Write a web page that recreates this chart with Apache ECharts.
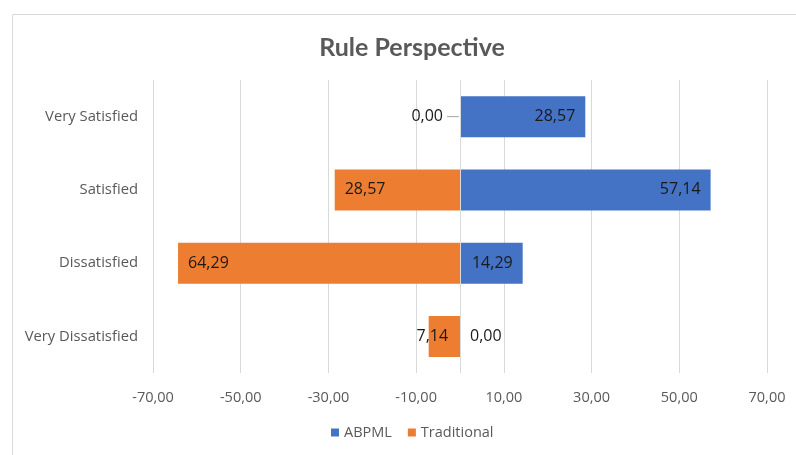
<!DOCTYPE html>
<html>
<head>
<meta charset="utf-8">
<script src="https://cdn.jsdelivr.net/npm/echarts@6/dist/echarts.min.js"></script>
<style>
  html, body { margin: 0; padding: 0; background: #fff; }
  #chart { width: 796px; height: 455px; }
</style>
</head>
<body>
<div id="chart"></div>
<script>
// Satisfaction levels, listed top to bottom
const categories = ['Very Satisfied', 'Satisfied', 'Dissatisfied', 'Very Dissatisfied'];
// Percentages per group
const abpml = [28.57, 57.14, 14.29, 0.00];
const traditional = [0.00, 28.57, 64.29, 7.14];
// Value axis ticks
const axisMin = -70;
const axisMax = 70;
const axisStep = 20;

const FONT = '"Open Sans", "Noto Sans", sans-serif';
const TITLE_FONT = 'Lato, "Open Sans", sans-serif';
const fmt = v => Math.abs(v).toFixed(2).replace('.', ',');

const chart = echarts.init(document.getElementById('chart'), null, { renderer: 'canvas' });

const labelBase = { show: true, color: '#1a1a1a', fontSize: 16, fontFamily: FONT };

// Blue bars extend right from zero; labels sit inside the bar end
const abpmlData = abpml.map(v => {
  const item = { value: v };
  if (v === 0) {
    item.label = Object.assign({}, labelBase, { position: 'right', distance: 10, formatter: p => fmt(p.value) });
  } else {
    item.label = Object.assign({}, labelBase, { position: 'insideRight', distance: 10, formatter: p => fmt(p.value) });
  }
  return item;
});

// Orange bars are drawn to the left of zero (negated values)
const tradData = traditional.map((v, i) => {
  const item = { value: -v };
  if (v === 0) {
    item.label = Object.assign({}, labelBase, {
      position: 'left', distance: 1,
      formatter: p => '{v|' + fmt(p.value) + '}{g| }{l| }',
      rich: {
        v: { fontSize: 16, color: '#1a1a1a', fontFamily: FONT },
        g: { width: 4 },
        l: { width: 12, height: 1, lineHeight: 1, backgroundColor: '#a6a6a6' }
      }
    });
  } else if (v < 15) {
    item.label = Object.assign({}, labelBase, { position: 'inside', offset: [-12, 0], formatter: p => fmt(p.value) });
  } else {
    item.label = Object.assign({}, labelBase, { position: 'insideLeft', distance: 10, formatter: p => fmt(p.value) });
  }
  return item;
});

chart.setOption({
  animation: false,
  backgroundColor: '#ffffff',
  graphic: [{
    type: 'rect',
    left: 10, top: 12,
    shape: { width: 800, height: 460 },
    style: { fill: 'none', stroke: '#d9d9d9', lineWidth: 1 },
    silent: true
  }],
  title: {
    text: 'Rule Perspective',
    left: 407,
    textAlign: 'center',
    top: 30,
    textStyle: { fontFamily: TITLE_FONT, fontSize: 25, fontWeight: 'bold', color: '#595959' }
  },
  legend: {
    bottom: 10,
    left: 326,
    itemWidth: 8,
    itemHeight: 8,
    itemGap: 16,
    icon: 'rect',
    textStyle: { fontFamily: FONT, fontSize: 14.5, color: '#595959' },
    data: ['ABPML', 'Traditional']
  },
  grid: { left: 153, right: 29, top: 80, bottom: 82 },
  xAxis: {
    type: 'value',
    min: axisMin,
    max: axisMax,
    interval: axisStep,
    axisLine: { show: false },
    axisTick: { show: false },
    splitLine: { show: true, lineStyle: { color: '#d9d9d9', width: 1 } },
    axisLabel: { formatter: v => v.toFixed(2).replace('.', ','), fontFamily: FONT, fontSize: 14.5, color: '#595959', margin: 17 }
  },
  yAxis: {
    type: 'category',
    inverse: true,
    data: categories,
    axisLine: { show: false },
    axisTick: { show: false },
    splitLine: { show: false },
    axisLabel: { fontFamily: FONT, fontSize: 14.8, color: '#595959', margin: 15 }
  },
  series: [
    {
      name: 'ABPML',
      type: 'bar',
      data: abpmlData,
      barWidth: 41,
      barGap: '-100%',
      itemStyle: { color: '#4472C4' },
      markLine: {
        silent: true,
        symbol: 'none',
        label: { show: false },
        lineStyle: { color: '#d9d9d9', type: 'solid', width: 1 },
        data: [{ xAxis: 0 }]
      }
    },
    {
      name: 'Traditional',
      type: 'bar',
      data: tradData,
      barWidth: 41,
      barGap: '-100%',
      itemStyle: { color: '#ED7D31' }
    }
  ]
});
</script>
</body>
</html>
